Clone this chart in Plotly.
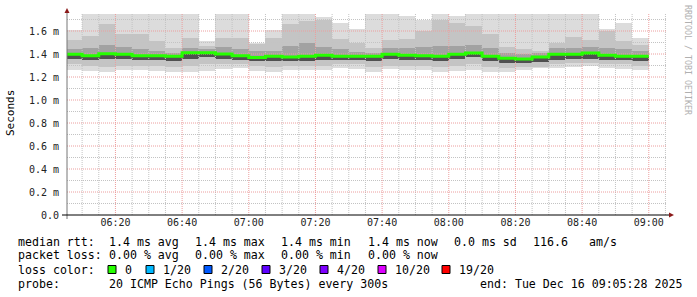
import plotly.graph_objects as go
import pandas as pd

# ---------------- data (ms) ----------------
rtt_max = [1.606, 1.76, 1.76, 1.76, 1.76, 1.76, 1.76, 1.76, 1.51, 1.76, 1.76, 1.50,
           1.606, 1.76, 1.76, 1.726, 1.67, 1.617, 1.76, 1.76, 1.73, 1.70, 1.76, 1.73,
           1.76, 1.76, 1.76, 1.76, 1.76, 1.76, 1.76, 1.76, 1.615, 1.67, 1.536]
rtt_hi = [1.52, 1.556, 1.66, 1.57, 1.57, 1.51, 1.45, 1.54, 1.47, 1.54, 1.54, 1.49,
          1.54, 1.66, 1.69, 1.70, 1.53, 1.50, 1.45, 1.52, 1.53, 1.60, 1.70, 1.67,
          1.64, 1.57, 1.46, 1.44, 1.43, 1.50, 1.55, 1.52, 1.60, 1.51, 1.48]
rtt_q3 = [1.44, 1.45, 1.48, 1.46, 1.44, 1.43, 1.41, 1.45, 1.44, 1.46, 1.44, 1.43,
          1.43, 1.47, 1.50, 1.46, 1.44, 1.42, 1.41, 1.45, 1.45, 1.46, 1.47, 1.47,
          1.48, 1.45, 1.41, 1.40, 1.41, 1.45, 1.45, 1.46, 1.45, 1.44, 1.43]
rtt_med = [1.397, 1.385, 1.403, 1.397, 1.385, 1.385, 1.38, 1.41, 1.41, 1.40, 1.385, 1.37,
           1.38, 1.374, 1.38, 1.39, 1.38, 1.38, 1.38, 1.397, 1.39, 1.385, 1.38, 1.397,
           1.409, 1.38, 1.362, 1.357, 1.374, 1.397, 1.397, 1.409, 1.39, 1.38, 1.38]
rtt_q1 = [1.36, 1.35, 1.36, 1.36, 1.35, 1.35, 1.34, 1.36, 1.37, 1.36, 1.35, 1.34,
          1.34, 1.34, 1.34, 1.35, 1.35, 1.35, 1.34, 1.36, 1.35, 1.35, 1.34, 1.36,
          1.37, 1.34, 1.32, 1.32, 1.33, 1.35, 1.36, 1.36, 1.35, 1.35, 1.34]
rtt_lo = [1.31, 1.30, 1.29, 1.30, 1.30, 1.30, 1.29, 1.30, 1.31, 1.31, 1.31, 1.30,
          1.29, 1.30, 1.30, 1.30, 1.31, 1.31, 1.29, 1.30, 1.30, 1.30, 1.29, 1.30,
          1.31, 1.29, 1.28, 1.29, 1.29, 1.31, 1.32, 1.32, 1.31, 1.31, 1.30]
rtt_min = [1.26, 1.25, 1.243, 1.26, 1.26, 1.25, 1.243, 1.243, 1.25, 1.27, 1.28, 1.25,
           1.243, 1.26, 1.26, 1.26, 1.28, 1.27, 1.243, 1.27, 1.26, 1.26, 1.245, 1.25,
           1.26, 1.243, 1.243, 1.26, 1.28, 1.28, 1.29, 1.296, 1.28, 1.27, 1.26]

range_start = pd.Timestamp("2025-12-16 06:05:28")
range_end = pd.Timestamp("2025-12-16 09:05:28")
col_ends = list(pd.date_range("2025-12-16 06:10", periods=len(rtt_med), freq="5min"))
col_starts = [range_start] + col_ends[:-1]

y_ticks = [0.0, 0.2, 0.4, 0.6, 0.8, 1.0, 1.2, 1.4, 1.6]
y_ticktext = ["0.0", "0.2 m", "0.4 m", "0.6 m", "0.8 m", "1.0 m", "1.2 m", "1.4 m", "1.6 m"]
x_ticks = list(pd.date_range("2025-12-16 06:20", "2025-12-16 09:00", freq="20min"))
x_ticktext = [t.strftime("%H:%M") for t in x_ticks]

loss_labels = ["0", "1/20", "2/20", "3/20", "4/20", "10/20", "19/20"]
loss_colors = ["#26ff00", "#00b8ff", "#0059ff", "#5e00ff", "#7e00ff", "#dd00ff", "#ff0000"]

# ---------------- layout geometry ----------------
W, H = 697, 297
PL, PT, PR, PB = 67, 14, 667, 215
YMAX = (PB - PT) / 115.0
MONO = "DejaVu Sans Mono"


def px(x):
    return (x - PL) / (PR - PL)


def py(y):
    return (PB - y) / (PB - PT)


widths = [(e - s).total_seconds() * 1000 for s, e in zip(col_starts, col_ends)]

fig = go.Figure()


def band(lo, hi, color):
    fig.add_trace(go.Bar(x=col_starts, y=[h - l for l, h in zip(lo, hi)], base=lo,
                         width=widths, offset=0, marker_color=color,
                         marker_line_width=0, hoverinfo="skip"))


band(rtt_min, rtt_max, "#dcdcdc")
band(rtt_lo, rtt_hi, "#c4c4c4")
band(rtt_med, rtt_q3, "#a2a2a2")
band(rtt_q1, rtt_med, "#505050")

# grid (drawn above the smoke, like rrdtool)
minor_x = pd.date_range("2025-12-16 06:10", "2025-12-16 09:05", freq="5min")
gx_minor, gy_minor, gx_major, gy_major = [], [], [], []
for t in minor_x:
    if t.minute % 20 == 0:
        gx_major += [t, t, None]; gy_major += [0, YMAX, None]
    else:
        gx_minor += [t, t, None]; gy_minor += [0, YMAX, None]
hx_minor, hy_minor, hx_major, hy_major = [], [], [], []
for k in range(1, 18):
    v = k / 10
    if k % 2 == 0:
        hx_major += [range_start, range_end, None]; hy_major += [v, v, None]
    else:
        hx_minor += [range_start, range_end, None]; hy_minor += [v, v, None]

for gx, gy, col in [(gx_minor, gy_minor, "rgb(195,195,195)"), (hx_minor, hy_minor, "rgb(195,195,195)"),
                    (gx_major, gy_major, "rgb(236,158,158)"), (hx_major, hy_major, "rgb(236,158,158)")]:
    fig.add_trace(go.Scatter(x=gx, y=gy, mode="lines", line=dict(color=col, width=1, dash="1px,1px"),
                             hoverinfo="skip"))

# median line
fig.add_trace(go.Scatter(x=col_starts + [col_ends[-1]], y=rtt_med + [rtt_med[-1]], mode="lines",
                         line=dict(color=loss_colors[0], width=3, shape="hv"), hoverinfo="skip"))

shapes = []
# axes lines
shapes.append(dict(type="line", xref="paper", yref="paper", x0=px(67), x1=px(67), y0=py(219), y1=py(10),
                   line=dict(color="#777777", width=1)))
shapes.append(dict(type="line", xref="paper", yref="paper", x0=px(62), x1=px(670), y0=py(215), y1=py(215),
                   line=dict(color="#000000", width=1)))
# arrows
shapes.append(dict(type="path", xref="paper", yref="paper",
                   path=f"M {px(64.5)} {py(13)} L {px(69.5)} {py(13)} L {px(67)} {py(8)} Z",
                   fillcolor="#8b1a1a", line=dict(width=0)))
shapes.append(dict(type="path", xref="paper", yref="paper",
                   path=f"M {px(669)} {py(212.5)} L {px(669)} {py(217.5)} L {px(674)} {py(215)} Z",
                   fillcolor="#8b1a1a", line=dict(width=0)))
# loss colour boxes
box_x = [108, 146, 204, 262, 320, 378, 442]
for bx, c in zip(box_x, loss_colors):
    shapes.append(dict(type="rect", xref="paper", yref="paper", x0=px(bx), x1=px(bx + 8),
                       y0=py(273.5), y1=py(265.5), fillcolor=c, line=dict(color="#000000", width=1)))

ann = []


def text(x, y, s, size=11.6, color="#000000", **kw):
    ann.append(dict(xref="paper", yref="paper", x=px(x), y=py(y), text=s.replace(" ", "\u00a0"),
                    showarrow=False, xanchor=kw.get("xanchor", "left"), yanchor="middle",
                    textangle=kw.get("angle", 0),
                    font=dict(family=MONO, size=size, color=color)))


text(10, 113, "Seconds", size=11, xanchor="center", angle=-90)
text(688, 60, "RRDTOOL / TOBI OETIKER", size=8.3, color="#b0b0b0", xanchor="center", angle=90)

L1 = 241.7
text(16, L1, "median rtt:")
for x, s in [(107, "1.4 ms avg"), (193, "1.4 ms max"), (279, "1.4 ms min"), (366, "1.4 ms now"),
             (451.5, "0.0 ms sd"), (530.5, "116.6"), (586.5, "am/s")]:
    text(x, L1, s)
L2 = 255.3
text(16, L2, "packet loss:")
for x, s in [(107, "0.00 % avg"), (193, "0.00 % max"), (279, "0.00 % min"), (366, "0.00 % now")]:
    text(x, L2, s)
L3 = 269.5
text(16, L3, "loss color:")
for bx, s in zip(box_x, loss_labels):
    text(bx + 14.5, L3, s)
L4 = 283.5
text(16, L4, "probe:")
text(107, L4, "20 ICMP Echo Pings (56 Bytes) every 300s")
text(478, L4, "end: Tue Dec 16 09:05:28 2025")

fig.update_layout(
    width=W, height=H, margin=dict(l=PL, r=W - PR, t=PT, b=H - PB),
    paper_bgcolor="white", plot_bgcolor="white", showlegend=False, barmode="overlay",
    bargap=0, shapes=shapes, annotations=ann,
    xaxis=dict(type="date", range=[range_start, range_end], tickvals=x_ticks, ticktext=x_ticktext,
               showgrid=False, zeroline=False, showline=False, ticks="",
               tickfont=dict(family=MONO, size=10, color="#222222"), fixedrange=True),
    yaxis=dict(range=[0, YMAX], tickvals=y_ticks, ticktext=y_ticktext, showgrid=False,
               zeroline=False, showline=False, ticks="", ticklabelstandoff=7,
               tickfont=dict(family=MONO, size=10, color="#222222"), fixedrange=True),
)

fig.write_html("out.html", config={"displayModeBar": False})
